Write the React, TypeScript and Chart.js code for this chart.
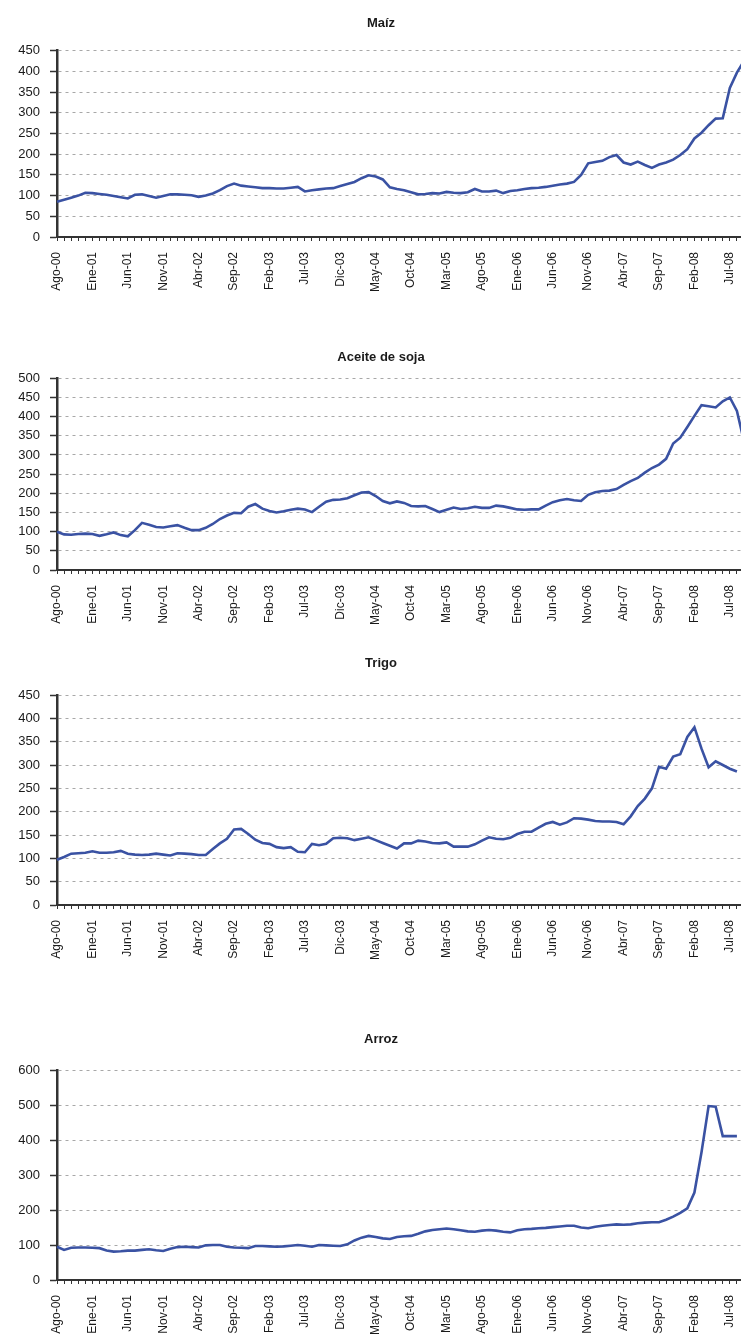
import React, { useEffect, useRef } from 'react';
import { Chart, registerables } from 'chart.js';

Chart.register(...registerables);

const MONTHS = ['Ene', 'Feb', 'Mar', 'Abr', 'May', 'Jun', 'Jul', 'Ago', 'Sep', 'Oct', 'Nov', 'Dic'];
// Monthly categories Ago-00 .. Sep-08
const categories: string[] = [];
for (let i = 0; i < 98; i++) {
  const m = (7 + i) % 12;
  const y = Math.floor((7 + i) / 12);
  categories.push(`${MONTHS[m]}-${String(y).padStart(2, '0')}`);
}

const tickLabels = [
  'Ago-00', 'Ene-01', 'Jun-01', 'Nov-01', 'Abr-02', 'Sep-02', 'Feb-03', 'Jul-03', 'Dic-03', 'May-04',
  'Oct-04', 'Mar-05', 'Ago-05', 'Ene-06', 'Jun-06', 'Nov-06', 'Abr-07', 'Sep-07', 'Feb-08', 'Jul-08',
];

const maiz = [
  85, 90, 95, 100, 107, 106, 104, 102, 99, 96,
  93, 102, 103, 99, 95, 99, 103, 103, 102, 101,
  97, 100, 105, 113, 123, 129, 124, 122, 120, 118,
  118, 117, 117, 119, 121, 110, 113, 115, 117, 118,
  123, 128, 133, 142, 149, 146, 139, 120, 116, 113,
  108, 103, 104, 106, 105, 109, 107, 106, 108, 116,
  110, 110, 112, 106, 111, 113, 116, 118, 119, 121,
  124, 127, 129, 133, 150, 178, 181, 184, 193, 198,
  180, 175, 182, 174, 167, 175, 180, 187, 198, 212,
  238, 252, 270, 286, 287, 360, 397, 425,
];

const aceiteSoja = [
  100, 93, 92, 94, 95, 94, 89, 93, 98, 91,
  88, 104, 123, 118, 112, 111, 114, 117, 110, 104,
  104, 110, 120, 133, 142, 149, 148, 165, 172, 160,
  154, 150, 153, 157, 160, 158, 151, 165, 178, 183,
  184, 187, 195, 202, 203, 193, 180, 174, 179, 175,
  167, 166, 167, 159, 151, 157, 163, 159, 161, 165,
  162, 162, 168, 166, 162, 158, 157, 158, 158, 168,
  177, 182, 185, 182, 180, 196, 203, 206, 207, 211,
  222, 232, 240, 254, 266, 275, 290, 330, 345, 373,
  402, 430, 427, 424, 440, 450, 415, 335,
];

const trigo = [
  97, 103, 110, 111, 112, 115, 112, 112, 113, 116,
  110, 108, 107, 108, 110, 108, 106, 111, 110, 109,
  107, 107, 120, 132, 142, 162, 163, 152, 140, 133,
  131, 124, 122, 124, 114, 113, 131, 128, 131, 143,
  144, 143, 139, 142, 145, 139, 133, 127, 121, 132,
  132, 138, 136, 133, 132, 134, 125, 125, 125, 130,
  138, 145, 142, 141, 144, 152, 157, 157, 166, 174,
  178, 172, 177, 186, 185, 183, 180, 179, 179, 178,
  173, 190, 212, 228, 250, 296, 292, 318, 323, 360,
  381, 335, 295, 308, 300, 292, 286,
];

const arroz = [
  95, 86, 92, 93, 93, 92, 91, 84, 81, 82,
  84, 84, 86, 88, 85, 83, 89, 94, 95, 94,
  93, 99, 100, 100, 95, 93, 92, 91, 97, 97,
  96, 95, 96, 98, 100, 98, 95, 100, 99, 98,
  97, 102, 113, 121, 126, 123, 119, 117, 123, 125,
  126, 132, 139, 143, 145, 147, 145, 142, 139, 138,
  141, 143, 141, 138, 136, 142, 145, 146, 148, 149,
  151, 153, 155, 155, 150, 148, 152, 155, 157, 159,
  158, 159, 162, 164, 165, 165, 172, 181, 192, 205,
  250, 365, 497, 495, 411, 411, 411,
];

const FONT = '"Liberation Sans", Arial, Helvetica, sans-serif';
const CANVAS_W = 760;
const PLOT_LEFT = 57;
const PLOT_RIGHT = 744;
const LEFT_PAD = 18;
const TITLE_SIZE = 13;
const TITLE_LH = TITLE_SIZE * 1.2;
const X_AXIS_H = 62;

type PanelSpec = {
  title: string;
  data: number[];
  max: number;
  step: number;
  titleY: number;
  plotTop: number;
  plotBottom: number;
};

const panels: PanelSpec[] = [
  { title: 'Maíz', data: maiz, max: 450, step: 50, titleY: 23, plotTop: 50.7, plotBottom: 236.7 },
  { title: 'Aceite de soja', data: aceiteSoja, max: 500, step: 50, titleY: 357, plotTop: 378.3, plotBottom: 570 },
  { title: 'Trigo', data: trigo, max: 450, step: 50, titleY: 663, plotTop: 695, plotBottom: 905 },
  { title: 'Arroz', data: arroz, max: 600, step: 100, titleY: 1039, plotTop: 1070, plotBottom: 1280 },
];

function Panel({ p }: { p: PanelSpec }) {
  const ref = useRef<HTMLCanvasElement>(null);
  const top = Math.round(p.titleY - TITLE_LH / 2 - 4);
  const padTop = p.titleY - TITLE_LH / 2 - top;
  const padBottom = p.plotTop - p.titleY - TITLE_LH / 2;
  const height = Math.round(p.plotBottom - top + X_AXIS_H);

  useEffect(() => {
    if (!ref.current) return;
    const chart = new Chart(ref.current, {
      type: 'line',
      data: {
        labels: categories,
        datasets: [
          {
            data: p.data,
            borderColor: '#3a52a3',
            borderWidth: 2.6,
            pointRadius: 0,
            fill: false,
            tension: 0,
          },
        ],
      },
      options: {
        animation: false,
        responsive: false,
        maintainAspectRatio: false,
        layout: { padding: { left: LEFT_PAD, right: CANVAS_W - PLOT_RIGHT, top: 0, bottom: 0 } },
        plugins: {
          legend: { display: false },
          tooltip: { enabled: false },
          title: {
            display: true,
            text: p.title,
            color: '#1a1a1a',
            font: { family: FONT, size: TITLE_SIZE, weight: 'bold', lineHeight: 1.2 },
            padding: { top: padTop, bottom: padBottom },
          },
        },
        scales: {
          x: {
            type: 'category',
            offset: false,
            grid: {
              display: true,
              drawOnChartArea: false,
              drawTicks: true,
              tickLength: 4,
              tickColor: '#333',
              tickWidth: 1,
              offset: false,
            },
            border: { display: true, color: '#333', width: 2 },
            ticks: {
              autoSkip: false,
              maxRotation: 90,
              minRotation: 90,
              padding: 11,
              color: '#1a1a1a',
              font: { family: FONT, size: 12 },
              callback: (_v: any, i: number) => {
                const l = categories[i];
                return tickLabels.includes(l) ? l : '';
              },
            },
            afterFit: (s: any) => {
              s.height = X_AXIS_H;
              s.paddingLeft = 0;
              s.paddingRight = 0;
            },
          },
          y: {
            min: 0,
            max: p.max,
            ticks: {
              stepSize: p.step,
              padding: 10,
              color: '#1a1a1a',
              font: { family: FONT, size: 13 },
            },
            grid: {
              color: '#a8a8a8',
              lineWidth: 1,
              tickLength: 7,
              tickColor: '#333',
              tickWidth: 1.5,
              tickBorderDash: [],
            },
            border: { display: true, color: '#333', width: 2.5, dash: [3, 4] },
            afterFit: (s: any) => {
              s.width = PLOT_LEFT - LEFT_PAD;
            },
          },
        },
      },
    } as any);
    return () => chart.destroy();
  }, []);

  return (
    <canvas
      ref={ref}
      width={CANVAS_W}
      height={height}
      style={{ position: 'absolute', left: 0, top, width: CANVAS_W, height }}
    />
  );
}

export default function App() {
  return (
    <div
      style={{
        position: 'absolute',
        left: 0,
        top: 0,
        width: 741,
        height: 1339,
        overflow: 'hidden',
        background: '#fff',
      }}
    >
      {panels.map((p) => (
        <Panel key={p.title} p={p} />
      ))}
    </div>
  );
}
